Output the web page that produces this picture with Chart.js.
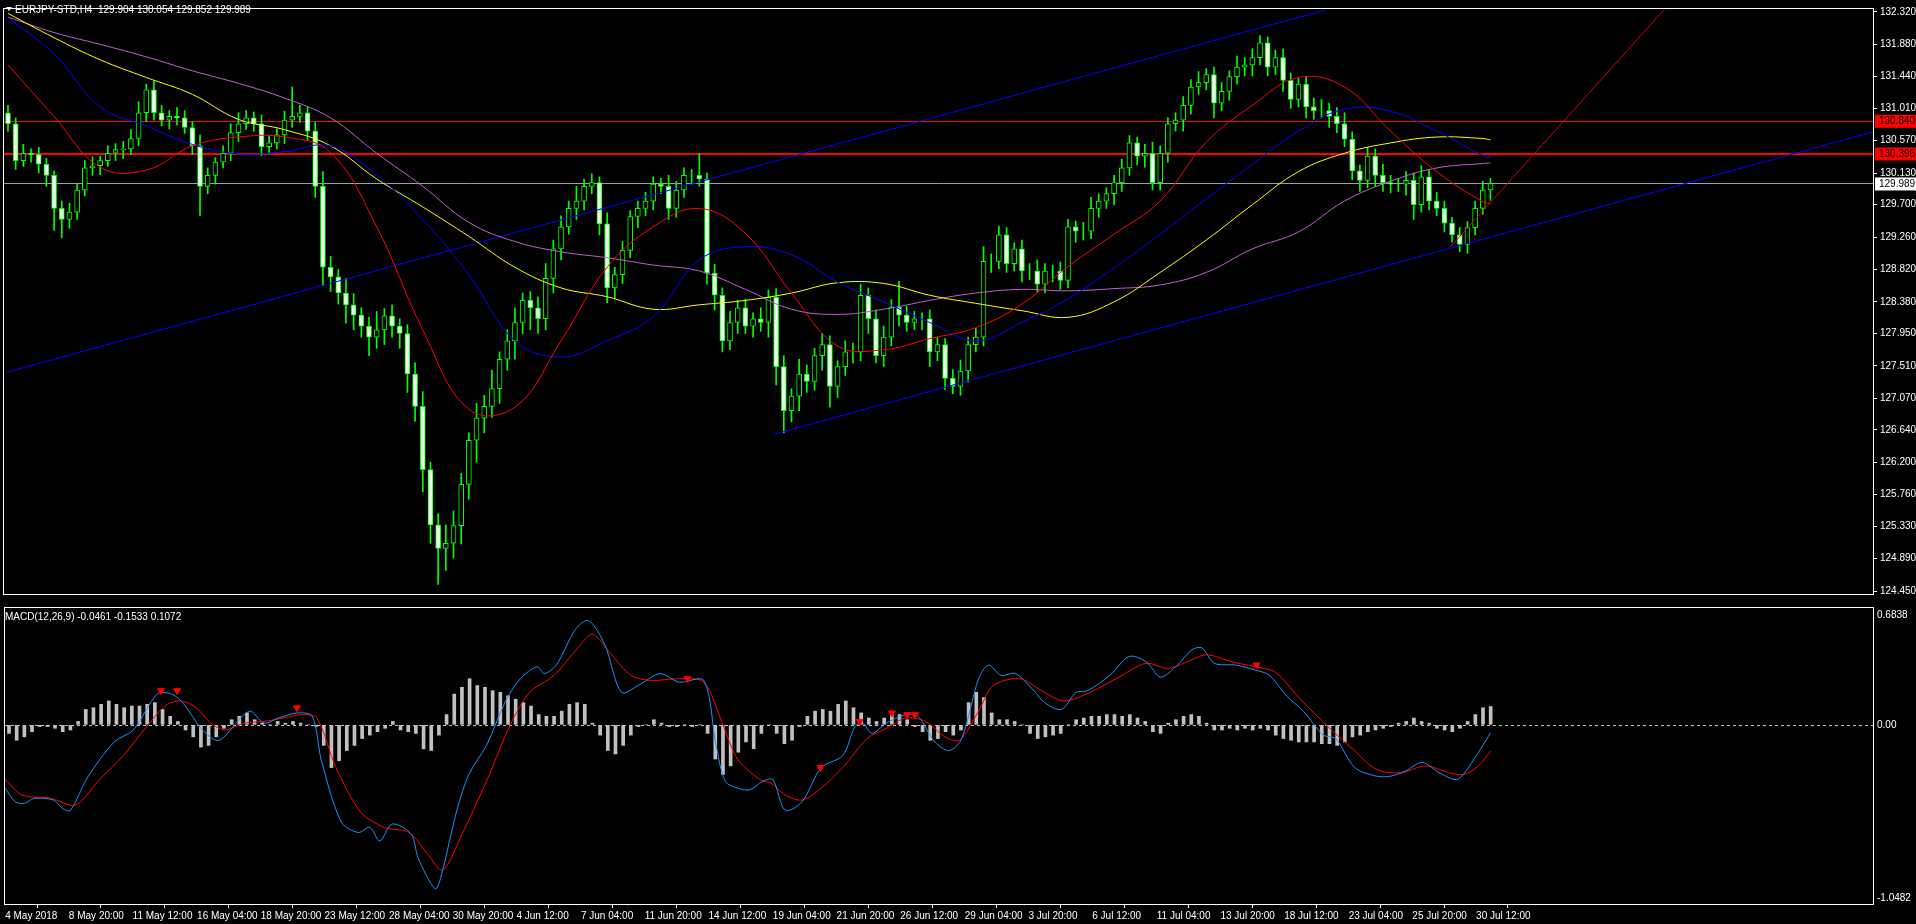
<!DOCTYPE html>
<html><head><meta charset="utf-8">
<script src="https://cdn.jsdelivr.net/npm/chart.js@4.4.1/dist/chart.umd.min.js"></script>
<style>
html,body{margin:0;padding:0;background:#000;width:1916px;height:924px;overflow:hidden}
#m{position:absolute;left:0;top:0}
#d{position:absolute;left:0;top:603px}
</style></head><body>
<canvas id="m" width="1916" height="603"></canvas>
<canvas id="d" width="1916" height="321"></canvas>
<script>
// ---------- DATA ----------
const tickLabels=["4 May 2018","8 May 20:00","11 May 12:00","16 May 04:00","18 May 20:00","23 May 12:00","28 May 04:00","30 May 20:00","4 Jun 12:00","7 Jun 04:00","11 Jun 20:00","14 Jun 12:00","19 Jun 04:00","21 Jun 20:00","26 Jun 12:00","29 Jun 04:00","3 Jul 20:00","6 Jul 12:00","11 Jul 04:00","13 Jul 20:00","18 Jul 12:00","23 Jul 04:00","25 Jul 20:00","30 Jul 12:00"];
const tickPos=[-0.5,7.8,16.1,24.5,32.8,41.1,49.5,57.8,66.1,74.5,82.8,91.1,99.5,107.8,116.1,124.5,132.8,141.1,149.5,157.8,166.1,174.5,182.8,191.1];
const priceTicks=[132.320,131.880,131.440,131.010,130.570,130.130,129.700,129.260,128.820,128.380,127.950,127.510,127.070,126.640,126.200,125.760,125.330,124.890,124.450];
const firstOpen=130.95;
const closes=[130.80,130.30,130.40,130.38,130.25,130.10,129.65,129.50,129.60,129.90,
130.20,130.23,130.30,130.40,130.45,130.46,130.60,130.95,131.26,130.95,
130.85,130.90,130.88,130.75,130.50,129.95,130.10,130.28,130.40,130.68,
130.80,130.88,130.80,130.49,130.54,130.65,130.85,130.90,130.95,130.70,
129.95,128.85,128.72,128.50,128.34,128.20,128.05,127.90,128.00,128.19,
128.05,127.95,127.40,126.96,126.10,125.35,125.03,125.10,125.34,125.90,
126.50,126.80,126.96,127.20,127.60,127.85,128.10,128.40,128.30,128.15,
128.70,129.10,129.40,129.65,129.75,129.95,130.00,129.44,128.57,128.75,
129.08,129.54,129.65,129.75,129.98,129.95,129.65,129.90,130.10,130.10,
130.05,128.77,128.47,127.85,128.10,128.30,128.05,128.15,128.10,128.44,
127.50,126.90,127.10,127.40,127.30,127.65,127.80,127.23,127.50,127.70,
127.70,128.47,128.15,127.65,127.90,128.31,128.20,128.10,128.15,128.15,
127.70,127.80,127.34,127.23,127.44,127.80,127.90,128.93,128.93,129.29,
128.90,129.10,128.80,128.80,128.62,128.80,128.80,128.67,129.40,129.34,
129.34,129.65,129.75,129.85,130.00,130.20,130.54,130.36,130.40,130.00,
130.40,130.80,130.85,131.05,131.30,131.36,131.47,131.08,131.24,131.44,
131.57,131.60,131.70,131.90,131.57,131.70,131.39,131.13,131.34,131.03,
130.98,130.98,130.90,130.80,130.59,130.16,130.03,130.36,130.10,130.00,
129.98,129.98,130.03,129.70,130.08,129.75,129.65,129.45,129.29,129.16,
129.39,129.65,129.90,129.989];
const wickUp=[0.10,0.08,0.12,0.06,0.10,0.08,0.06,0.10,0.12,0.08,0.10,0.12,0.06,0.10,0.08,0.10,0.12,0.15,0.08,0.12,0.10,0.08,0.12,0.10,0.08,0.15,0.10,0.06,0.10,0.12,0.15,0.10,0.08,0.12,0.10,0.08,0.12,0.40,0.10,0.08,0.12,0.20,0.15,0.10,0.20,0.15,0.10,0.12,0.25,0.10,0.15,0.10,0.12,0.15,0.20,0.10,0.15,0.25,0.20,0.15,0.10,0.20,0.15,0.25,0.10,0.15,0.20,0.10,0.12,0.15,0.20,0.12,0.15,0.10,0.20,0.10,0.12,0.08,0.15,0.10,0.12,0.08,0.10,0.12,0.10,0.08,0.15,0.12,0.10,0.08,0.30,0.08,0.12,0.10,0.15,0.10,0.12,0.08,0.15,0.10,0.12,0.15,0.10,0.20,0.12,0.10,0.15,0.12,0.08,0.15,0.12,0.15,0.10,0.12,0.15,0.10,0.35,0.12,0.10,0.08,0.12,0.10,0.08,0.12,0.15,0.10,0.12,0.20,0.10,0.12,0.10,0.08,0.12,0.10,0.15,0.10,0.08,0.12,0.10,0.08,0.12,0.15,0.10,0.08,0.10,0.12,0.10,0.08,0.12,0.15,0.10,0.08,0.10,0.12,0.10,0.15,0.08,0.10,0.12,0.08,0.15,0.10,0.12,0.10,0.08,0.10,0.12,0.10,0.08,0.10,0.12,0.15,0.10,0.12,0.15,0.10,0.08,0.12,0.10,0.15,0.10,0.08,0.12,0.10,0.15,0.10,0.12,0.10,0.08,0.10,0.08,0.10,0.12,0.07];
const wickDn=[0.10,0.12,0.08,0.10,0.12,0.15,0.30,0.25,0.12,0.10,0.08,0.10,0.12,0.08,0.10,0.12,0.08,0.10,0.12,0.10,0.08,0.12,0.10,0.08,0.12,0.40,0.10,0.12,0.08,0.10,0.12,0.08,0.10,0.12,0.10,0.08,0.12,0.10,0.08,0.12,0.15,0.25,0.20,0.15,0.25,0.20,0.15,0.25,0.15,0.20,0.15,0.20,0.25,0.20,0.30,0.25,0.49,0.30,0.20,0.25,0.20,0.30,0.20,0.15,0.20,0.15,0.25,0.15,0.30,0.20,0.15,0.20,0.15,0.10,0.15,0.12,0.10,0.15,0.20,0.15,0.12,0.10,0.15,0.10,0.12,0.10,0.15,0.12,0.10,0.12,0.10,0.15,0.20,0.15,0.12,0.15,0.10,0.15,0.12,0.20,0.25,0.30,0.15,0.20,0.15,0.12,0.20,0.28,0.15,0.12,0.15,0.12,0.20,0.10,0.15,0.12,0.15,0.12,0.10,0.15,0.20,0.12,0.15,0.10,0.12,0.15,0.10,0.12,0.15,0.10,0.12,0.10,0.15,0.12,0.10,0.12,0.15,0.12,0.10,0.15,0.12,0.10,0.12,0.10,0.15,0.12,0.10,0.12,0.15,0.10,0.10,0.12,0.10,0.15,0.12,0.10,0.10,0.20,0.10,0.12,0.10,0.12,0.15,0.10,0.12,0.10,0.15,0.12,0.10,0.15,0.12,0.10,0.15,0.12,0.10,0.12,0.15,0.10,0.15,0.12,0.12,0.10,0.15,0.20,0.10,0.12,0.10,0.12,0.10,0.10,0.12,0.10,0.08,0.14];
const maX=[0,6,12,18,24,30,36,42,48,54,60,66,72,78,84,90,96,102,108,114,120,126,132,138,144,150,156,162,168,174,180,186,192,193];
const maRed=[131.6,130.9,130.21,130.17,130.5,130.62,130.62,130.41,129.4,128.0,126.92,126.95,127.85,128.85,129.4,129.65,129.31,128.5,127.78,127.73,127.88,128.03,128.35,128.86,129.3,129.75,130.55,131.05,131.43,131.3,130.7,130.15,129.74,129.72];
const maBlue=[132.24,131.75,131.03,130.77,130.52,130.39,130.42,130.5,130.1,129.5,128.75,127.85,127.63,127.85,128.18,128.95,129.13,129.02,128.65,128.38,128.1,127.85,128.1,128.42,128.84,129.3,129.78,130.25,130.7,131.0,130.97,130.7,130.37,130.34];
const maYellow=[132.3,131.97,131.67,131.43,131.2,130.86,130.72,130.5,130.05,129.67,129.27,128.85,128.57,128.45,128.28,128.34,128.4,128.5,128.64,128.63,128.47,128.36,128.26,128.17,128.38,128.78,129.22,129.7,130.15,130.4,130.54,130.62,130.6,130.58];
const maViolet=[132.25,132.04,131.88,131.71,131.52,131.35,131.15,130.88,130.4,129.95,129.46,129.2,129.06,128.98,128.88,128.8,128.55,128.28,128.21,128.28,128.4,128.5,128.55,128.53,128.56,128.61,128.78,129.1,129.33,129.75,130.02,130.2,130.26,130.27];
const levelHigh=130.840, levelLow=130.396, lastPrice=129.989;
const upperChannelX=[-0.26,171.6], upperChannelY=[127.42,132.35];
const lowerChannelX=[99.7,242.8], lowerChannelY=[126.58,130.69];
const redTrendX=[187.8,215.6], redTrendY=[129.13,132.35];
const macdHist=[-0.05,-0.09,-0.07,-0.04,-0.01,-0.01,-0.02,-0.04,-0.03,0.02,0.09,0.10,0.12,0.14,0.12,0.10,0.11,0.11,0.12,0.13,0.09,0.05,0.02,-0.03,-0.07,-0.13,-0.12,-0.07,-0.02,0.03,0.05,0.07,0.03,0.01,0.00,0.02,0.01,0.02,0.01,0.00,-0.01,-0.12,-0.25,-0.21,-0.15,-0.12,-0.08,-0.06,-0.04,-0.02,0.02,-0.03,-0.04,-0.05,-0.14,-0.15,-0.06,0.06,0.18,0.22,0.27,0.23,0.22,0.20,0.19,0.17,0.15,0.13,0.11,0.06,0.05,0.05,0.08,0.12,0.13,0.12,0.01,-0.06,-0.15,-0.17,-0.12,-0.06,-0.01,0.00,0.03,0.01,-0.01,-0.01,0.00,-0.01,0.00,-0.05,-0.20,-0.29,-0.24,-0.16,-0.10,-0.14,-0.05,0.00,-0.05,-0.11,-0.09,-0.01,0.05,0.08,0.09,0.08,0.12,0.14,0.10,0.07,0.04,0.02,0.04,0.06,0.06,0.03,-0.01,-0.04,-0.09,-0.08,-0.04,-0.06,-0.03,0.13,0.19,0.16,0.07,0.03,0.03,0.02,0.00,-0.05,-0.08,-0.07,-0.06,-0.05,0.00,0.03,0.04,0.05,0.05,0.06,0.06,0.05,0.06,0.04,0.02,-0.04,-0.05,0.01,0.03,0.05,0.06,0.05,0.01,-0.03,-0.03,-0.02,-0.03,-0.02,-0.03,-0.02,-0.03,-0.06,-0.08,-0.09,-0.10,-0.10,-0.10,-0.11,-0.11,-0.12,-0.10,-0.07,-0.06,-0.04,-0.03,-0.02,-0.01,0.01,0.02,0.04,0.02,0.01,-0.02,-0.03,-0.04,-0.02,0.02,0.06,0.10,0.1072];
const macdMainX=[-0.5,0.8,2,3.3,5.8,7,8,10.2,13.7,16.2,19.3,21.2,22.8,25,26.9,27.8,31.3,33.2,35.1,37.6,39.5,40.7,43.3,45.5,47,48.3,49.9,52.4,53.3,55.5,56.2,58.4,59.9,62.2,64.7,66.6,68.8,69.7,71.3,73.8,75.5,77.6,79.8,82.3,84.8,87.3,90.5,92.1,93.3,94.9,96.5,98.2,99.5,101.1,103.3,105.8,108.6,110.2,111.2,112.4,114.3,116.8,118.4,120.6,122.5,124.1,126.3,127.6,129.2,131.1,133.3,134.9,137.1,139,140.5,143.4,145.9,148.1,150,152.2,154.1,155.4,157,159.8,162.4,164.2,166.4,168.6,171.2,172.8,175.3,178.1,180,181.9,184.1,186.3,188.6,190.1,191.7,193];
const macdMainY=[-0.37,-0.45,-0.46,-0.43,-0.44,-0.49,-0.50,-0.31,-0.10,-0.03,0.18,0.18,0.12,-0.02,-0.09,-0.08,0.08,0.01,0.04,0.07,0.05,-0.21,-0.57,-0.63,-0.60,-0.68,-0.58,-0.64,-0.78,-0.96,-0.90,-0.49,-0.29,-0.12,0.14,0.27,0.34,0.30,0.35,0.56,0.61,0.47,0.19,0.24,0.30,0.25,0.26,-0.12,-0.33,-0.37,-0.38,-0.33,-0.32,-0.50,-0.45,-0.25,-0.18,-0.01,0.01,-0.05,0.01,0.06,0.05,-0.10,-0.15,-0.08,0.27,0.35,0.29,0.30,0.21,0.13,0.09,0.19,0.20,0.29,0.40,0.37,0.28,0.35,0.44,0.45,0.36,0.35,0.32,0.29,0.17,0.08,-0.06,-0.08,-0.25,-0.30,-0.30,-0.27,-0.22,-0.28,-0.32,-0.25,-0.14,-0.0461];
const macdSigX=[-0.5,1.7,5.5,8.6,11.8,14.9,18.1,20.6,22.5,24.4,26.3,28.1,30.7,33.2,35.7,38.2,40.1,42.6,45.8,48.9,52.1,54.6,56.5,59,62.2,65.3,67.8,71,74.1,76,78.5,81,83.6,87.3,90.5,93,94.9,97.8,99.2,101.1,103.3,105.8,108.6,111.8,114.3,116.8,119.4,121.9,123.8,126.3,128.2,131.7,134.5,137.4,140.8,144.6,148.1,151,153.5,156,159.2,162.3,164.9,168,171.8,175,178.1,181.3,184.5,187.6,189.5,191.4,193];
const macdSigY=[-0.32,-0.41,-0.43,-0.47,-0.32,-0.18,0.0,0.12,0.14,0.10,0.01,-0.03,0.01,0.02,0.04,0.06,0.04,-0.25,-0.51,-0.60,-0.63,-0.76,-0.85,-0.64,-0.33,0.0,0.19,0.29,0.45,0.53,0.41,0.29,0.26,0.27,0.25,0.0,-0.20,-0.32,-0.34,-0.41,-0.44,-0.37,-0.25,-0.08,-0.02,0.04,0.02,-0.07,-0.09,0.08,0.23,0.27,0.20,0.14,0.19,0.28,0.36,0.33,0.37,0.41,0.37,0.34,0.31,0.16,-0.01,-0.14,-0.26,-0.28,-0.24,-0.28,-0.29,-0.24,-0.1533];
const arrowX=[19.8,21.9,37.5,88.4,105.7,110.8,115,117,118,162.5];
const arrowY=[0.20,0.20,0.10,0.27,-0.25,0.02,0.07,0.06,0.06,0.35];
const macdTicks=[0.6838,0.00,-1.0482];
const title="EURJPY-STD,H4  129.904 130.054 129.852 129.989";
const macdTitle="MACD(12,26,9) -0.0461 -0.1533 0.1072";

// ---------- BUILD ----------
const FONT="'Liberation Sans', Arial, sans-serif";
const XMIN=-0.52, XMAX=242.8;
const opens=closes.map((c,i)=>i===0?firstOpen:closes[i-1]);
const bodies=closes.map((c,i)=>({x:i,y:[opens[i],c]}));
const wicks=closes.map((c,i)=>({x:i,y:[Math.min(opens[i],c)-wickDn[i],Math.max(opens[i],c)+wickUp[i]]}));
const bodyFill=closes.map((c,i)=>c>=opens[i]?'#000000':'#e8ffe8');
const pts=(xs,ys)=>xs.map((x,i)=>({x:x,y:ys[i]}));
const line=(d,col,w,t,ord)=>({type:'line',data:d,borderColor:col,borderWidth:w,pointRadius:0,tension:t,order:ord,fill:false});
const fitRight=s=>{s.width=43;};

const frame={id:'frame',afterDraw(c){const a=c.chartArea,x=c.ctx;x.save();x.strokeStyle='#ffffff';x.lineWidth=1;x.strokeRect(a.left-0.5,a.top-0.5,a.right-a.left+1,a.bottom-a.top+1);x.restore();}};

const mainDeco={id:'mainDeco',beforeDatasetsDraw(c){
  const y=c.scales.y,a=c.chartArea,x=c.ctx;x.save();
  [[levelHigh,'#ff0000',1],[levelLow,'#ff0000',2],[lastPrice,'#a0a0a0',1]].forEach(([v,col,w])=>{
    const p=Math.round(y.getPixelForValue(v))+(w===1?0.5:0);x.strokeStyle=col;x.lineWidth=w;x.beginPath();x.moveTo(a.left,p);x.lineTo(a.right,p);x.stroke();});
  x.restore();},
 afterDraw(c){
  const y=c.scales.y,a=c.chartArea,x=c.ctx;x.save();x.font='10px '+FONT;x.textBaseline='middle';
  [[levelHigh,'#ff0000','#000'],[levelLow,'#ff0000','#000'],[lastPrice,'#ffffff','#000']].forEach(([v,bg,fg])=>{
    const p=y.getPixelForValue(v);x.fillStyle=bg;x.fillRect(a.right+2,p-6,1916-a.right-2,13);x.fillStyle=fg;x.fillText(v.toFixed(3),a.right+6,p+0.5);});
  x.fillStyle='#ffffff';x.beginPath();x.moveTo(6,7);x.lineTo(12,7);x.lineTo(9,11);x.closePath();x.fill();
  x.textBaseline='alphabetic';x.fillText(title,15,13);
  x.restore();}};

new Chart(document.getElementById('m'),{type:'bar',
 data:{datasets:[
  line(pts(maX,maRed),'#ff0000',1,0.4,1),
  line(pts(maX,maBlue),'#0000ff',1,0.4,1),
  line(pts(maX,maYellow),'#ffff00',1,0.4,1),
  line(pts(maX,maViolet),'#c060d0',1,0.4,1),
  line(pts(upperChannelX,upperChannelY),'#0000ff',1,0,1),
  line(pts(lowerChannelX,lowerChannelY),'#0000ff',1,0,1),
  line(pts(redTrendX,redTrendY),'#d00000',1,0,1),
  {type:'bar',data:bodies,backgroundColor:bodyFill,borderColor:'#00ff00',borderWidth:1,borderSkipped:false,barThickness:5,grouped:false,order:2},
  {type:'bar',data:wicks,backgroundColor:'#00ff00',barThickness:1,grouped:false,order:3}
 ]},
 options:{responsive:false,devicePixelRatio:1,animation:false,events:[],
  layout:{padding:{left:4,top:3,bottom:1,right:0}},
  plugins:{legend:{display:false},tooltip:{enabled:false}},
  scales:{
   x:{type:'linear',min:XMIN,max:XMAX,display:false,offset:false},
   y:{position:'right',min:124.41,max:132.36,
      afterBuildTicks:s=>{s.ticks=priceTicks.map(v=>({value:v}));},afterFit:fitRight,
      ticks:{color:'#ffffff',font:{size:10,family:FONT},padding:3,callback:v=>v.toFixed(3)},
      grid:{drawOnChartArea:false,color:'#ffffff',tickLength:4},border:{color:'#ffffff'}}
  }},
 plugins:[mainDeco,frame]});

const macdDeco={id:'macdDeco',beforeDatasetsDraw(c){
  const y=c.scales.y,a=c.chartArea,x=c.ctx;const p=Math.round(y.getPixelForValue(0))+0.5;
  x.save();x.strokeStyle='#c0c0c0';x.setLineDash([3,3]);x.beginPath();x.moveTo(a.left,p);x.lineTo(a.right,p);x.stroke();x.restore();},
 afterDraw(c){
  const y=c.scales.y,a=c.chartArea,x=c.ctx;x.save();x.font='10px '+FONT;x.fillStyle='#ffffff';
  x.textBaseline='top';x.fillText(macdTicks[0].toFixed(4),a.right+4,a.top+2);
  x.textBaseline='middle';x.fillText(macdTicks[1].toFixed(2),a.right+4,y.getPixelForValue(0));
  x.textBaseline='bottom';x.fillText(macdTicks[2].toFixed(4),a.right+4,a.bottom-1);
  x.textBaseline='alphabetic';x.fillText(macdTitle,5,a.top+12);
  x.restore();}};

new Chart(document.getElementById('d'),{type:'bar',
 data:{datasets:[
  {type:'bar',data:macdHist.map((v,i)=>({x:i,y:v})),backgroundColor:'#c0c0c0',barThickness:3,grouped:false,order:3},
  line(pts(macdMainX,macdMainY),'#1e90ff',1,0.3,2),
  line(pts(macdSigX,macdSigY),'#ff0000',1,0.3,2),
  {type:'scatter',data:pts(arrowX,arrowY),pointStyle:'triangle',rotation:180,pointRadius:4,backgroundColor:'#ff0000',borderColor:'#ff0000',order:1}
 ]},
 options:{responsive:false,devicePixelRatio:1,animation:false,events:[],
  layout:{padding:{left:4,top:1,bottom:0,right:0}},
  plugins:{legend:{display:false},tooltip:{enabled:false}},
  scales:{
   x:{type:'linear',min:XMIN,max:XMAX,offset:false,
      afterBuildTicks:s=>{s.ticks=tickPos.map(v=>({value:v}));},afterFit:s=>{s.height=20;},
      ticks:{color:'#ffffff',font:{size:10,family:FONT},autoSkip:false,maxRotation:0,align:'start',padding:2,callback:(v,i)=>tickLabels[i]},
      grid:{drawOnChartArea:false,color:'#ffffff',tickLength:4},border:{color:'#ffffff'}},
   y:{position:'right',min:-1.0482,max:0.6838,afterFit:fitRight,ticks:{display:false},
      grid:{drawOnChartArea:false,drawTicks:false},border:{color:'#ffffff'}}
  }},
 plugins:[macdDeco,frame]});
</script></body></html>
